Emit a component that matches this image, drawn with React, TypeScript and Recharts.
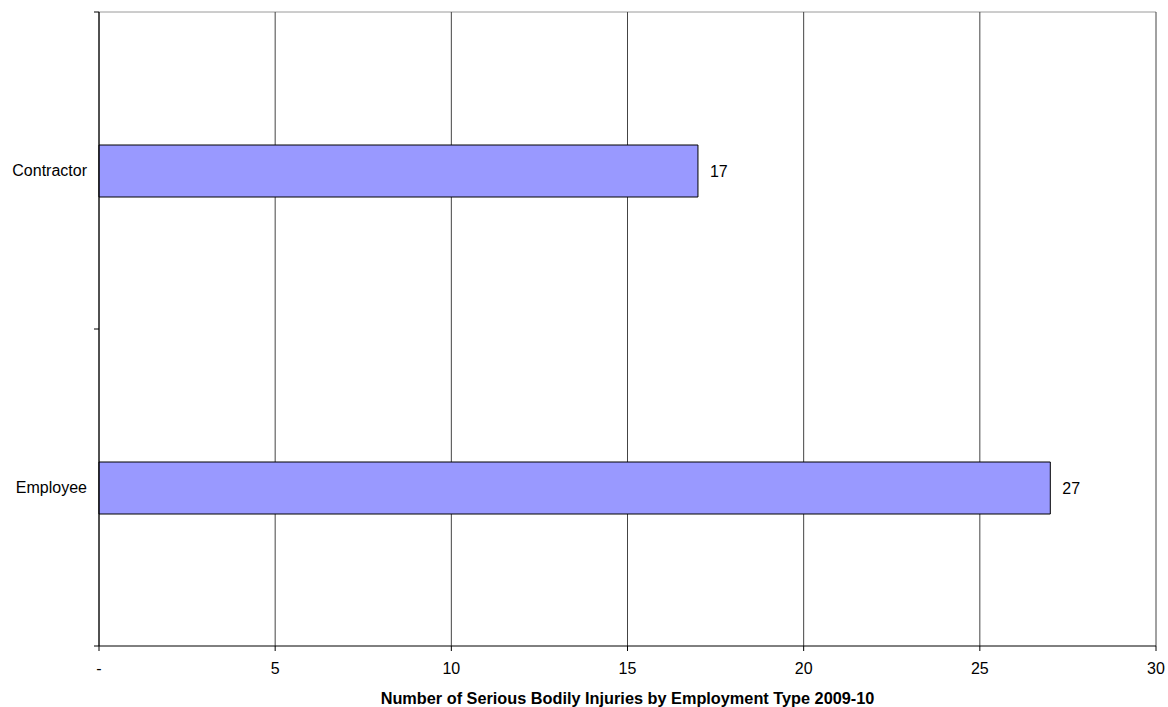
import React from 'react';
import { BarChart, Bar, XAxis, YAxis, CartesianGrid, LabelList } from 'recharts';

const categories = ['Contractor', 'Employee'];
const injuries = [17, 27];
const xTicks = [0, 5, 10, 15, 20, 25, 30];
const titleText = 'Number of Serious Bodily Injuries by Employment Type 2009-10';

const data = categories.map((name, i) => ({ name, value: injuries[i] }));

const FONT = '"Liberation Sans", Arial, sans-serif';
const TICK_MARGIN = 12;

const CatTick = (props: any) => {
  const { x, y, payload, index, visibleTicksCount } = props;
  const half = payload && typeof payload.offset === 'number' ? payload.offset : 0;
  const axisX = x + TICK_MARGIN;
  return (
    <g>
      <line x1={axisX - 5} x2={axisX} y1={y - half} y2={y - half} stroke="#000" strokeWidth={1} />
      {index === visibleTicksCount - 1 && (
        <line x1={axisX - 5} x2={axisX} y1={y + half} y2={y + half} stroke="#000" strokeWidth={1} />
      )}
      <text x={x} y={y} dy="0.355em" textAnchor="end" fill="#000" fontSize={16} fontFamily={FONT}>
        {payload.value}
      </text>
    </g>
  );
};

export default function App() {
  return (
    <div style={{ width: 1168, height: 707, background: '#fff' }}>
      <style>{`body{margin:0;}`}</style>
      <BarChart
        width={1168}
        height={707}
        data={data}
        layout="vertical"
        margin={{ top: 12, right: 12, bottom: 0, left: 0 }}
      >
        <CartesianGrid
          vertical={false}
          horizontal={true}
          stroke="#9a9a9a"
          horizontalCoordinatesGenerator={(p: any) => [p.offset.top]}
        />
        <CartesianGrid vertical={true} horizontal={false} stroke="#444" />
        <XAxis
          type="number"
          domain={[0, 30]}
          ticks={xTicks}
          interval={0}
          height={61}
          tickSize={5}
          tickMargin={12}
          axisLine={{ stroke: '#000' }}
          tickLine={{ stroke: '#000' }}
          tick={{ fill: '#000', fontSize: 16, fontFamily: FONT }}
          tickFormatter={(v: number) => (v === 0 ? '-' : String(v))}
          label={{
            value: titleText,
            position: 'insideBottom',
            offset: 3,
            fill: '#000',
            fontSize: 16.3,
            fontWeight: 'bold',
            fontFamily: FONT,
          }}
        />
        <YAxis
          type="category"
          dataKey="name"
          width={99}
          tickSize={0}
          tickMargin={TICK_MARGIN}
          tickLine={false}
          axisLine={{ stroke: '#000' }}
          tick={<CatTick />}
          interval={0}
        />
        <Bar
          dataKey="value"
          fill="#9999FF"
          stroke="#000"
          strokeWidth={1}
          barSize={52}
          isAnimationActive={false}
        >
          <LabelList
            dataKey="value"
            position="right"
            offset={12}
            fill="#000"
            fontSize={16}
            fontFamily={FONT}
          />
        </Bar>
      </BarChart>
    </div>
  );
}
